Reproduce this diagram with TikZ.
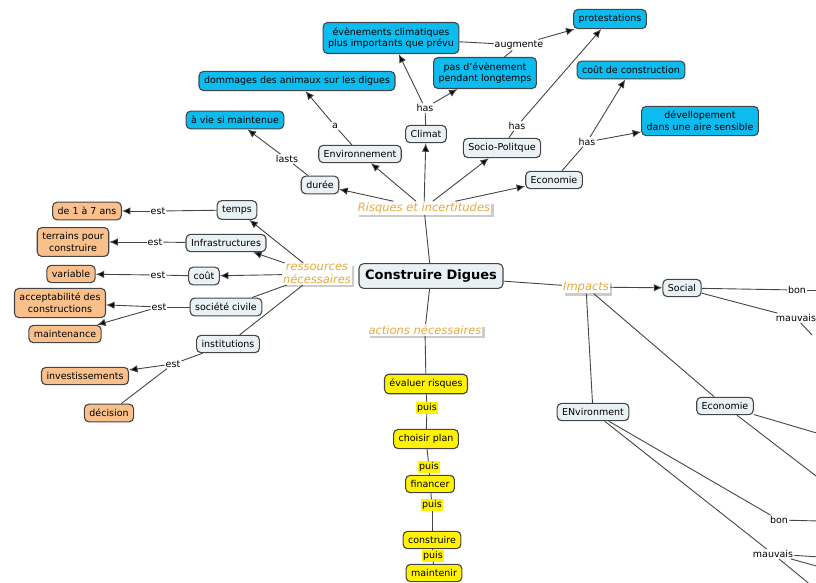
\documentclass[tikz,border=0pt]{standalone}
\usepackage{fontspec}
\setmainfont{DejaVu Sans}
\usetikzlibrary{arrows.meta,shadows}
\definecolor{conceptfill}{HTML}{EAF1F5}
\definecolor{cyanfill}{HTML}{0DBCEF}
\definecolor{orangefill}{HTML}{F9C08C}
\definecolor{linkorange}{HTML}{E8A93C}
\definecolor{edgegray}{HTML}{454545}

\begin{document}
\begin{tikzpicture}[x=1pt, y=-1pt,
    concept/.style={draw=edgegray, line width=1.1pt, rounded corners=4.5pt, fill=conceptfill, font=\fontsize{9.5}{11.5}\selectfont, inner xsep=5pt, inner ysep=5pt, align=center},
    effet/.style={concept, fill=cyanfill},
    valeur/.style={concept, fill=orangefill},
    etape/.style={concept, fill=yellow},
    branche/.style={font=\fontsize{11.5}{13}\selectfont\itshape, text=linkorange, fill=white, inner sep=1pt, align=center, drop shadow={shadow xshift=2.5pt, shadow yshift=-2.5pt, fill=gray!40, opacity=1}},
    lien/.style={font=\fontsize{9.5}{11}\selectfont, fill=white, inner sep=1pt},
    fl/.style={draw=edgegray, line width=0.9pt, -{Latex[length=8.5pt, width=7.5pt, fill=black]}},
    tr/.style={draw=edgegray, line width=0.9pt}]
    \useasboundingbox (0,0) rectangle (816,582);

    \node[concept, font=\fontsize{13}{15}\selectfont\bfseries, inner sep=6pt] (digues) at (431,276) {Construire Digues};
    \node[branche] (risques) at (424,208) {Risques et incertitudes};
    \node[branche] (ressources) at (317,274) {ressources\\nécessaires};
    \node[branche] (actions) at (425,330) {actions nécessaires};
    \node[branche] (impacts) at (586,287) {Impacts};

    \node[concept] (duree) at (320,185) {durée};
    \node[concept] (envir) at (360,154) {Environnement};
    \node[concept] (climat) at (426,134) {Climat};
    \node[concept] (socio) at (502,148) {Socio-Politque};
    \node[concept] (econ) at (554,180) {Economie};
    \node[effet] (vie) at (235,120) {à vie si maintenue};
    \node[effet] (dommages) at (297,81) {dommages des animaux sur les digues};
    \node[effet] (evenements) at (391,38) {évènements climatiques\\plus importants que prévu};
    \node[effet] (calme) at (485,73) {pas d'évènement\\pendant longtemps};
    \node[effet] (protest) at (610,19) {protestations};
    \node[effet] (cout) at (631,70) {coût de construction};
    \node[effet] (aire) at (700,121) {dévellopement\\dans une aire sensible};
    \node[lien] (lasts) at (287,159) {lasts};
    \node[lien] (a) at (335,126) {a};
    \node[lien] (hasc) at (425,108) {has};
    \node[lien] (augmente) at (519,45) {augmente};
    \node[lien] (hass) at (517,126) {has};
    \node[lien] (hase) at (587,142) {has};

    \node[concept] (temps) at (237,210) {temps};
    \node[concept] (infra) at (226,243) {Infrastructures};
    \node[concept] (coutr) at (204,276) {coût};
    \node[concept] (societe) at (226,307) {société civile};
    \node[concept] (instit) at (228,344) {institutions};
    \node[valeur] (ans) at (87,211) {de 1 à 7 ans};
    \node[valeur] (terrains) at (73,242) {terrains pour\\construire};
    \node[valeur] (variable) at (71,274) {variable};
    \node[valeur] (accept) at (60,303) {acceptabilité des\\constructions};
    \node[valeur] (maint) at (65,334) {maintenance};
    \node[valeur] (invest) at (85,376) {investissements};
    \node[valeur] (decision) at (109,413) {décision};
    \node[lien] (est1) at (158,211) {est};
    \node[lien] (est2) at (155,242) {est};
    \node[lien] (est3) at (158,275) {est};
    \node[lien] (est4) at (159,307) {est};
    \node[lien] (est5) at (173,364) {est};

    \node[etape] (evaluer) at (426,384) {évaluer risques};
    \node[etape] (choisir) at (426,439) {choisir plan};
    \node[etape] (financer) at (430,484) {financer};
    \node[etape] (construire) at (432,540) {construire};
    \node[etape] (maintenir) at (434,573) {maintenir};
    \node[lien, fill=yellow] (puis1) at (427,408) {puis};
    \node[lien, fill=yellow] (puis2) at (429,467) {puis};
    \node[lien, fill=yellow] (puis3) at (432,505) {puis};
    \node[lien, fill=yellow] (puis4) at (433,556) {puis};

    \node[concept] (social) at (682,288) {Social};
    \node[concept] (envimp) at (593,412) {ENvironment};
    \node[concept] (ecoimp) at (725,406) {Economie};
    \node[lien] (bons) at (797,290) {bon};
    \node[lien] (mauvs) at (796,318) {mauvais};
    \node[lien] (bone) at (779,520) {bon};
    \node[lien] (mauve) at (773,554) {mauvais};
    \coordinate (bonsout) at (820,290);
    \coordinate (mauvsout) at (812,335);
    \coordinate (ecoout1) at (820,434);
    \coordinate (ecoout2) at (820,479);
    \coordinate (boneout) at (820,521);
    \coordinate (mauveout1) at (820,557);
    \coordinate (mauveout2) at (820,567);
    \coordinate (mauveout3) at (812,586);

    \draw[tr] (digues) -- (risques);
    \draw[tr] (digues) -- (actions);
    \draw[tr] (digues) -- (impacts);
    \draw[fl] (risques) -- (duree);
    \draw[fl] (risques) -- (envir);
    \draw[fl] (risques) -- (climat);
    \draw[fl] (risques) -- (socio);
    \draw[fl] (risques) -- (econ);
    \draw[tr] (duree) -- (lasts);
    \draw[fl] (lasts) -- (vie);
    \draw[tr] (envir) -- (a);
    \draw[fl] (a) -- (dommages);
    \draw[tr] (climat) -- (hasc);
    \draw[fl] (hasc) -- (evenements);
    \draw[fl] (hasc) -- (calme);
    \draw[tr] (evenements) -- (augmente);
    \draw[tr] (calme) -- (augmente);
    \draw[fl] (augmente) -- (protest);
    \draw[tr] (socio) -- (hass);
    \draw[fl] (hass) -- (protest);
    \draw[tr] (econ) -- (hase);
    \draw[fl] (hase) -- (cout);
    \draw[fl] (hase) -- (aire);

    \draw[fl] (ressources) -- (temps);
    \draw[fl] (ressources) -- (infra);
    \draw[fl] (ressources) -- (coutr);
    \draw[tr] (ressources) -- (societe);
    \draw[tr] (ressources) -- (instit);
    \draw[tr] (temps) -- (est1);
    \draw[fl] (est1) -- (ans);
    \draw[tr] (infra) -- (est2);
    \draw[fl] (est2) -- (terrains);
    \draw[tr] (coutr) -- (est3);
    \draw[fl] (est3) -- (variable);
    \draw[tr] (societe) -- (est4);
    \draw[fl] (est4) -- (accept);
    \draw[fl] (est4) -- (maint);
    \draw[tr] (instit) -- (est5);
    \draw[fl] (est5) -- (invest);
    \draw[tr] (est5) -- (decision);

    \draw[tr] (actions) -- (evaluer);
    \draw[tr] (evaluer) -- (puis1);
    \draw[tr] (puis1) -- (choisir);
    \draw[tr] (choisir) -- (puis2);
    \draw[tr] (puis2) -- (financer);
    \draw[tr] (financer) -- (puis3);
    \draw[tr] (puis3) -- (construire);
    \draw[tr] (construire) -- (puis4);
    \draw[tr] (puis4) -- (maintenir);

    \draw[fl] (impacts) -- (social);
    \draw[tr] (impacts) -- (envimp);
    \draw[tr] (impacts) -- (ecoimp);
    \draw[tr] (social) -- (bons);
    \draw[tr] (bons) -- (bonsout);
    \draw[tr] (social) -- (mauvs);
    \draw[tr] (mauvs) -- (mauvsout);
    \draw[tr] (ecoimp) -- (ecoout1);
    \draw[tr] (ecoimp) -- (ecoout2);
    \draw[tr] (envimp) -- (bone);
    \draw[tr] (envimp) -- (mauve);
    \draw[tr] (bone) -- (boneout);
    \draw[tr] (mauve) -- (mauveout1);
    \draw[tr] (mauve) -- (mauveout2);
    \draw[tr] (mauve) -- (mauveout3);
\end{tikzpicture}
\end{document}
